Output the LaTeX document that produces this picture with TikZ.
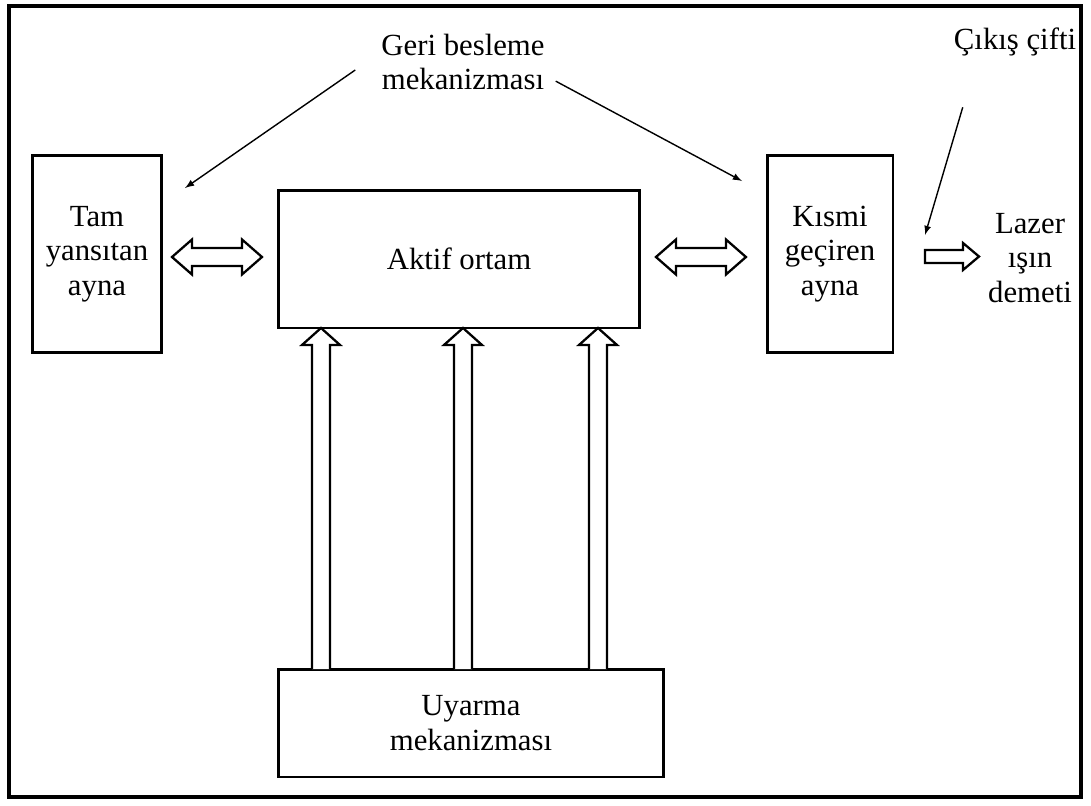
\documentclass[tikz,border=0pt]{standalone}
\usepackage{fontspec}
\setmainfont{Liberation Serif}
\usetikzlibrary{calc,arrows}

\tikzset{
  kutu/.style={draw, line width=1.7pt, align=center, inner sep=0pt, outer sep=0pt},
  blok/.style={draw, line width=1.3pt, fill=white, line join=miter},
  ince/.style={-latex, line width=0.8pt},
}

\begin{document}
\begin{tikzpicture}[x=0.02cm, y=-0.02cm, font=\fontsize{17.5}{19.5}\selectfont]
    \useasboundingbox (0,0) rectangle (1091,805);
    \draw[line width=2pt] (9,6) rectangle (1081,797);

    % kutular
    \node[kutu, minimum width=2.6cm, minimum height=3.96cm] (tam) at (97,254) {Tam\\yansıtan\\ayna};
    \node[kutu, minimum width=7.24cm, minimum height=2.76cm] (aktif) at (459,259) {Aktif ortam};
    \node[kutu, minimum width=2.52cm, minimum height=3.94cm] (kismi) at (830,254) {Kısmi\\geçiren\\ayna};
    \node[kutu, minimum width=7.72cm, minimum height=2.16cm] (uyarma) at (471,723) {Uyarma\\mekanizması};

    % etiketler
    \node[align=center] (geri) at (463,62) {Geri besleme\\mekanizması};
    \node (cikis) at (1015,42) {Çıkış çifti};
    \node[align=center] (lazer) at (1030,258) {Lazer\\ışın\\demeti};

    % ince oklar
    \coordinate (u1) at (185,188);
    \coordinate (u2) at (742,181);
    \coordinate (u3) at (925,235);
    \draw[ince] ([xshift=-0.4cm, yshift=-0.16cm]geri.west) -- (u1);
    \draw[ince] ([xshift=0.1cm, yshift=0.3cm]geri.south east) -- (u2);
    \draw[ince] ([xshift=0.3cm, yshift=-0.9cm]cikis.south west) -- (u3);

    % bos oklar
    \foreach \x in {321,463,598} {
        \draw[blok] (uyarma.north -| \x-9,0) -- ($(aktif.south -| \x-9,0)+(0,17)$) -- ++(-10,0)
            -- (aktif.south -| \x,0) -- ++(19,17) -- ++(-10,0) -- (uyarma.north -| \x+9,0);
    };
    \foreach \n/\dx/\dy in {tam/10/3, aktif/16/-2} {
        \draw[blok] ($(\n.east)+(\dx,\dy)$) -- ++(20,-17.5) -- ++(0,8.5) -- ++(50,0) -- ++(0,-8.5)
            -- ++(20,17.5) -- ++(-20,17.5) -- ++(0,-8.5) -- ++(-50,0) -- ++(0,8.5) -- cycle;
    };
    \draw[blok] ($(kismi.east)+(32,-4)$) -- ++(38,0) -- ++(0,-7) -- ++(16,13.5) -- ++(-16,13.5)
        -- ++(0,-7) -- ++(-38,0) -- cycle;
\end{tikzpicture}
\end{document}
